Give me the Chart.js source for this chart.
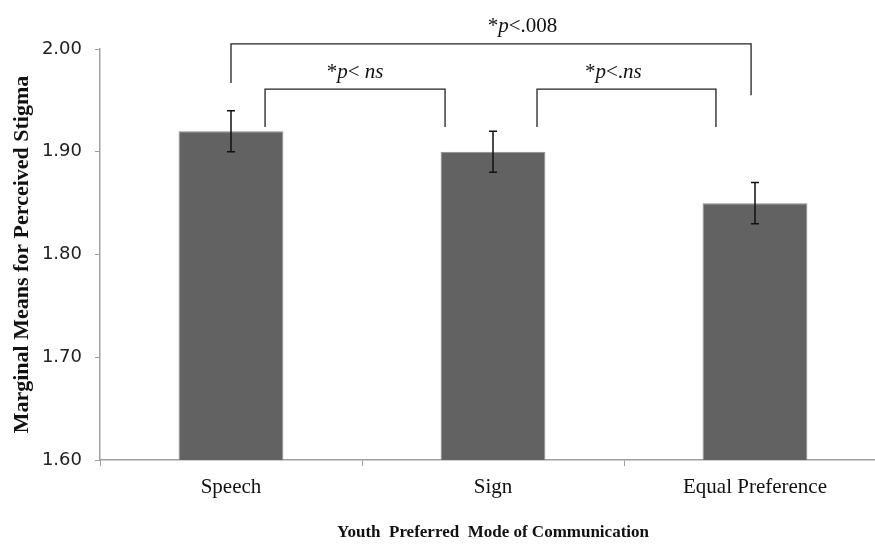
<!DOCTYPE html>
<html lang="en">
<head>
    <meta charset="UTF-8">
    <title>Perceived Stigma by Preferred Mode</title>
    <script src="https://cdn.jsdelivr.net/npm/chart.js"></script>
    <style>
        html, body { margin: 0; padding: 0; background: #fff; overflow: hidden; }
        .grafico { position: relative; width: 886px; height: 546px; }
    </style>
</head>
<body>
    <div class="grafico"><canvas id="chart"></canvas></div>
    <script>
        // datos
        const categorias = ['Speech', 'Sign', 'Equal Preference'];
        const medias = [1.92, 1.90, 1.85];
        const errores = [0.02, 0.02, 0.02];

        // comparaciones (desde categoria, hasta categoria, texto)
        const compDesde = [0, 0, 1];
        const compHasta = [2, 1, 2];
        const compTexto = [['*', 'p', '<.008'], ['*', 'p', '< ', 'ns'], ['*', 'p', '<.', 'ns']];

        // donde dibujar cada corchete (en unidades de la escala)
        const corchetes = [
            { x0: 0, x1: 1.985, top: 2.005, pieIzq: 1.967, pieDer: 1.955, dx: 0.12 },
            { x0: 0.13, x1: 0.817, top: 1.961, pieIzq: 1.924, pieDer: 1.924, dx: 0 },
            { x0: 1.168, x1: 1.851, top: 1.961, pieIzq: 1.924, pieDer: 1.924, dx: -0.05 }
        ];

        const serif = "'Liberation Serif', 'Times New Roman', serif";

        const errorBars = {
            id: 'errorBars',
            afterDatasetsDraw(chart) {
                const ctx = chart.ctx;
                const x = chart.scales.x, y = chart.scales.y;
                ctx.save();
                ctx.strokeStyle = '#111';
                ctx.lineWidth = 1.5;
                medias.forEach((m, i) => {
                    const px = x.getPixelForValue(i);
                    const yHi = y.getPixelForValue(m + errores[i]);
                    const yLo = y.getPixelForValue(m - errores[i]);
                    ctx.beginPath();
                    ctx.moveTo(px, yHi); ctx.lineTo(px, yLo);
                    ctx.moveTo(px - 4, yHi); ctx.lineTo(px + 4, yHi);
                    ctx.moveTo(px - 4, yLo); ctx.lineTo(px + 4, yLo);
                    ctx.stroke();
                });
                ctx.restore();
            }
        };

        const brackets = {
            id: 'brackets',
            afterDatasetsDraw(chart) {
                const ctx = chart.ctx;
                const x = chart.scales.x, y = chart.scales.y;
                ctx.save();
                ctx.strokeStyle = '#222';
                ctx.lineWidth = 1.3;
                corchetes.forEach((c, i) => {
                    const xa = x.getPixelForValue(c.x0);
                    const xb = x.getPixelForValue(c.x1);
                    const yt = y.getPixelForValue(c.top);
                    ctx.beginPath();
                    ctx.moveTo(xa, y.getPixelForValue(c.pieIzq));
                    ctx.lineTo(xa, yt);
                    ctx.lineTo(xb, yt);
                    ctx.lineTo(xb, y.getPixelForValue(c.pieDer));
                    ctx.stroke();

                    // texto con p y ns en cursiva
                    const partes = compTexto[i];
                    const fuentes = partes.map(p => (p === 'p' || p === 'ns') ? 'italic 21px ' + serif : '21px ' + serif);
                    let total = 0;
                    partes.forEach((p, k) => { ctx.font = fuentes[k]; total += ctx.measureText(p).width; });
                    let cx = x.getPixelForValue((c.x0 + c.x1) / 2 + c.dx) - total / 2;
                    ctx.fillStyle = '#111';
                    ctx.textBaseline = 'middle';
                    ctx.textAlign = 'left';
                    partes.forEach((p, k) => {
                        ctx.font = fuentes[k];
                        ctx.fillText(p, cx, yt - 17);
                        cx += ctx.measureText(p).width;
                    });
                });
                ctx.restore();
            }
        };

        new Chart(document.getElementById('chart'), {
            type: 'bar',
            data: {
                labels: categorias,
                datasets: [{
                    data: medias,
                    backgroundColor: '#626262',
                    borderColor: '#8c8c8c',
                    borderWidth: 1,
                    categoryPercentage: 1,
                    barPercentage: 0.4
                }]
            },
            options: {
                responsive: true,
                maintainAspectRatio: false,
                animation: false,
                layout: { padding: { top: 49, left: 0, right: 0, bottom: 0 } },
                plugins: { legend: { display: false }, tooltip: { enabled: false } },
                scales: {
                    x: {
                        afterFit: s => { s.height = 86; },
                        grid: { drawOnChartArea: false, drawTicks: true, tickLength: 6, color: '#a0a0a0', offset: true },
                        border: { color: '#a0a0a0', width: 1.5 },
                        ticks: { color: '#111', padding: 9, font: { family: serif, size: 21 } },
                        title: {
                            display: true,
                            text: 'Youth  Preferred  Mode of Communication',
                            color: '#111',
                            font: { family: serif, size: 17, weight: 'bold' },
                            padding: { top: 0, bottom: 3 }
                        }
                    },
                    y: {
                        min: 1.6,
                        max: 2.0,
                        afterFit: s => { s.width = 100; },
                        grid: { drawOnChartArea: false, drawTicks: true, tickLength: 5, color: '#a0a0a0' },
                        border: { color: '#a0a0a0', width: 1.5 },
                        ticks: {
                            stepSize: 0.1,
                            color: '#222',
                            padding: 13,
                            font: { family: "'DejaVu Sans', sans-serif", size: 18 },
                            callback: v => v.toFixed(2)
                        },
                        title: {
                            display: true,
                            text: 'Marginal Means for Perceived Stigma',
                            color: '#111',
                            font: { family: serif, size: 22, weight: 'bold' },
                            padding: { top: 9, bottom: 0 }
                        }
                    }
                }
            },
            plugins: [errorBars, brackets]
        });
    </script>
</body>
</html>
